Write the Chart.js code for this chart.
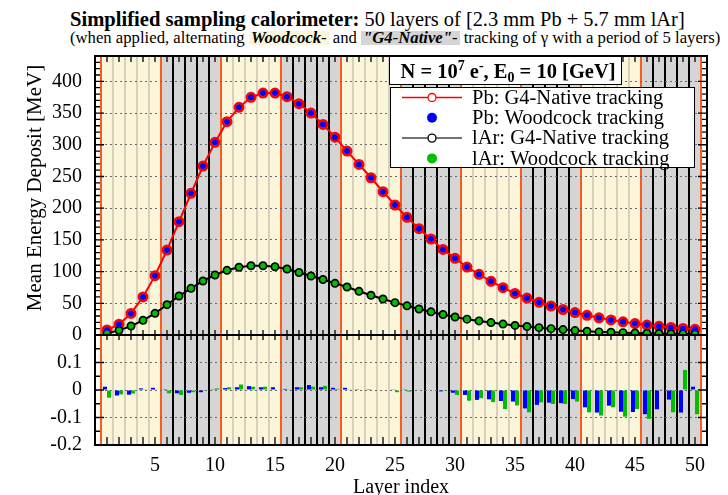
<!DOCTYPE html>
<html>
<head>
<meta charset="utf-8">
<script src="https://cdn.jsdelivr.net/npm/chart.js@4.4.1/dist/chart.umd.min.js"></script>
<style>
  html, body { margin: 0; padding: 0; background: #fff; }
  body { width: 728px; height: 495px; overflow: hidden; position: relative;
         font-family: 'Liberation Serif', 'Times New Roman', serif; color: #000; }
  #t1 { position: absolute; left: 70px; top: 9px; font-size: 20.4px; line-height: 20px; white-space: nowrap; }
  #t1 b { font-size: 20.6px; }
  #t2 { position: absolute; left: 70px; top: 29px; font-size: 16.7px; line-height: 17px; white-space: nowrap; }
  .hl { display: inline-block; height: 14px; line-height: 14px; padding: 0 2px; }
  .hl.wc { background: #fbf5d9; }
  .hl.g4 { background: #d5d5d5; }
  canvas { position: absolute; left: 0; }
  #energy { top: 0; }
  #relerr { top: 318px; }
</style>
</head>
<body>
<div id="t1"><b>Simplified sampling calorimeter:</b> 50 layers of [2.3 mm Pb + 5.7 mm lAr]</div>
<div id="t2">(when applied, alternating <span class="hl wc"><b><i>Woodcock</i></b>-</span> and <span class="hl g4"><b><i>"G4-Native"</i></b>-</span> tracking of γ with a period of 5 layers)</div>
<canvas id="energy" width="728" height="350"></canvas>
<canvas id="relerr" width="728" height="187"></canvas>
<script>
// Layer index of the calorimeter (1..50)
const layers = [1,2,3,4,5,6,7,8,9,10,11,12,13,14,15,16,17,18,19,20,
                21,22,23,24,25,26,27,28,29,30,31,32,33,34,35,36,37,38,39,40,
                41,42,43,44,45,46,47,48,49,50];

// Mean energy deposit per layer [MeV]
const pbNative = [7.9,16.8,34,60,93.6,134,178.7,223.4,266.5,303.8,
                  336.4,359,374.8,381.5,381.5,375.8,364.8,350,332,312,
                  290,269,248,226,205,185.6,167.6,151.4,135,121,
                  107.2,95.7,84.7,74.6,65.5,58.3,51.6,45.6,40.2,35.3,
                  31,27.1,23.7,20.7,18,15.7,13.7,11.9,10.3,8.9];
const pbWoodcock = [7.9,16.8,34,60,93.6,134,178.7,223.4,266.5,303.8,
                    336.4,359,374.8,381.5,381.5,375.8,364.8,350,332,312,
                    290,269,248,226,205,185.6,167.6,151.4,135,121,
                    107.2,95.7,84.7,74.6,65.5,58.3,51.6,45.6,40.2,35.3,
                    31,27.1,23.7,20.7,18,15.7,13.7,11.9,10.3,8.9];
const lArNative = [2.6,7.3,14.2,23.1,34.2,47.8,61.5,73.6,85.2,94.6,
                   102,106.8,109.3,109.3,107.7,104,98.5,93,87.5,81.5,
                   75.7,68.9,62.6,56.8,51,46,41,36.5,32.3,28.4,
                   25,22.2,19.6,17.2,15.1,13.4,11.6,10,8.5,7,
                   5.9,4.9,4.3,3.7,3.2,2.7,2.3,2,1.8,1.6];
const lArWoodcock = [2.6,7.3,14.2,23.1,34.2,47.8,61.5,73.6,85.2,94.6,
                     102,106.8,109.3,109.3,107.7,104,98.5,93,87.5,81.5,
                     75.7,68.9,62.6,56.8,51,46,41,36.5,32.3,28.4,
                     25,22.2,19.6,17.2,15.1,13.4,11.6,10,8.5,7,
                     5.9,4.9,4.3,3.7,3.2,2.7,2.3,2,1.8,1.6];

// Relative difference Woodcock vs G4-Native [%]
const pbRelErr = [0.012,-0.02,-0.017,0.006,0.008,0.003,-0.012,-0.01,-0.008,0.001,
                  0.007,0.01,0.014,0.01,0.01,0.004,0.01,0.018,0.01,0.008,
                  0.008,0.003,0.003,0,0.001,0.001,0.002,0,-0.005,-0.01,
                  -0.018,-0.036,-0.034,-0.04,-0.042,-0.067,-0.054,-0.046,-0.048,-0.033,
                  -0.063,-0.082,-0.057,-0.079,-0.08,-0.088,-0.07,-0.035,-0.082,0.012];
const lArRelErr = [-0.028,-0.016,-0.013,0.001,0.002,-0.012,-0.018,-0.008,-0.003,0.006,
                   0.01,0.02,0.012,0.012,0.002,0.001,0.01,0.012,0.015,0.004,
                   0.001,0,0,0,-0.008,-0.006,0,0,-0.001,-0.018,
                   -0.039,-0.03,-0.044,-0.069,-0.056,-0.081,-0.045,-0.051,-0.051,-0.042,
                   -0.081,-0.093,-0.063,-0.097,-0.069,-0.105,0.001,-0.081,0.073,-0.088];

// Photon tracking used in each group of 5 layers
const trackingPeriod = 5;
const groupTracking = ['Woodcock','G4-Native','Woodcock','G4-Native','Woodcock',
                       'G4-Native','Woodcock','G4-Native','Woodcock','G4-Native'];

const COL = {
  beige: '#fbf5d9', gray: '#d5d5d5', sep: '#d8d0bd', black: '#000',
  orange: '#ff5a1e', red: '#ff0000', blue: '#0000ff', green: '#00bf00', grid: '#6a6a6a'
};
const SERIF = "'Liberation Serif', 'Times New Roman', serif";

Chart.defaults.font.family = SERIF;
Chart.defaults.font.size = 20;
Chart.defaults.color = '#000';

const pts = vals => layers.map((l, i) => ({x: l, y: vals[i]}));

// keep the plot area exactly where the layout padding puts it
const fixedWidth = w => s => { s.width = w; s.paddingTop = 0; s.paddingBottom = 0; };
const fixedHeight = h => s => { s.height = h; s.paddingLeft = 0; s.paddingRight = 0; };

// Shaded groups of layers and the layer separators
const bandsPlugin = {
  id: 'bands',
  beforeDraw(chart) {
    const {ctx, chartArea: a, scales: {x}} = chart;
    ctx.save();
    ctx.fillStyle = '#fff';
    ctx.fillRect(a.left, a.top, a.width, a.height);
    groupTracking.forEach((mode, g) => {
      const first = layers[g * trackingPeriod];
      const last = layers[g * trackingPeriod + trackingPeriod - 1];
      const x0 = x.getPixelForValue(first - 0.5);
      const x1 = x.getPixelForValue(last + 0.5);
      const wc = mode === 'Woodcock';
      ctx.fillStyle = wc ? COL.beige : COL.gray;
      ctx.fillRect(x0, a.top, x1 - x0, a.height);
      ctx.strokeStyle = wc ? COL.sep : COL.black;
      ctx.lineWidth = 2;
      ctx.beginPath();
      for (let l = first; l < last; l++) {
        const px = x.getPixelForValue(l + 0.5);
        ctx.moveTo(px, a.top); ctx.lineTo(px, a.bottom);
      }
      ctx.stroke();
    });
    ctx.strokeStyle = COL.orange;
    ctx.lineWidth = 2;
    ctx.beginPath();
    groupTracking.forEach((mode, g) => {
      const first = layers[g * trackingPeriod];
      const px = x.getPixelForValue(first - 0.5);
      ctx.moveTo(px, a.top); ctx.lineTo(px, a.bottom);
    });
    const pe = x.getPixelForValue(layers[layers.length - 1] + 0.5);
    ctx.moveTo(pe, a.top); ctx.lineTo(pe, a.bottom);
    ctx.stroke();
    ctx.restore();
  }
};

// Pad frame with inward ticks on all four sides
function padFrame(cfg) {
  return {
    id: 'padFrame',
    beforeDatasetsDraw(chart) {
      const {ctx, chartArea: a, scales: {x, y}} = chart;
      ctx.save();
      ctx.strokeStyle = '#000';
      ctx.lineWidth = 1.3;
      ctx.beginPath();
      layers.forEach(l => {
        const px = x.getPixelForValue(l);
        ctx.moveTo(px, a.top); ctx.lineTo(px, a.top + cfg.xTop);
        ctx.moveTo(px, a.bottom); ctx.lineTo(px, a.bottom - cfg.xBottom);
      });
      const n = Math.round((y.max - y.min) / cfg.yMinor);
      for (let i = 0; i <= n; i++) {
        const v = y.min + i * cfg.yMinor;
        const r = v / cfg.yMajor;
        const major = Math.abs(r - Math.round(r)) < 1e-6;
        const len = major ? cfg.yMajorLen : cfg.yMinorLen;
        const py = y.getPixelForValue(v);
        ctx.moveTo(a.left, py); ctx.lineTo(a.left + len, py);
        ctx.moveTo(a.right, py); ctx.lineTo(a.right - len, py);
      }
      ctx.stroke();
      ctx.lineWidth = 2;
      ctx.strokeRect(a.left, a.top, a.width, a.height);
      ctx.restore();
    }
  };
}

// Rotated y-axis title
function yTitle(text, size, baselineX, centerY) {
  return {
    id: 'yTitle',
    afterDraw(chart) {
      const ctx = chart.ctx;
      ctx.save();
      ctx.font = size + 'px ' + SERIF;
      ctx.fillStyle = '#000';
      ctx.textAlign = 'center';
      ctx.textBaseline = 'alphabetic';
      ctx.translate(baselineX, centerY);
      ctx.rotate(-Math.PI / 2);
      ctx.fillText(text, 0, 0);
      ctx.restore();
    }
  };
}

// Beam box and legend of the four series
const legendPlugin = {
  id: 'seriesLegend',
  afterDraw(chart) {
    const ctx = chart.ctx;
    ctx.save();
    // beam box
    ctx.fillStyle = '#fff';
    ctx.fillRect(389, 56, 233, 29);
    ctx.strokeStyle = '#000';
    ctx.lineWidth = 1;
    ctx.strokeRect(389.5, 56.5, 232, 28);
    const parts = [
      ['N = 10', 20.5, 0], ['7', 14, -8], [' e', 20.5, 0], ['-', 14, -8],
      [', E', 20.5, 0], ['0', 14, 4], [' = 10 [GeV]', 20.5, 0]
    ];
    let total = 0;
    parts.forEach(p => { ctx.font = 'bold ' + p[1] + 'px ' + SERIF; total += ctx.measureText(p[0]).width; });
    let xx = 508 - total / 2;
    ctx.fillStyle = '#000';
    ctx.textBaseline = 'alphabetic';
    ctx.textAlign = 'left';
    parts.forEach(p => {
      ctx.font = 'bold ' + p[1] + 'px ' + SERIF;
      ctx.fillText(p[0], xx, 78 + p[2]);
      xx += ctx.measureText(p[0]).width;
    });
    // legend
    ctx.fillStyle = '#fff';
    ctx.fillRect(390, 87, 305, 81);
    ctx.strokeRect(390.5, 87.5, 304, 80);
    const ds = chart.data.datasets;
    [0, 1, 2, 3].forEach((i, r) => {
      const d = ds[i];
      const yy = 97.5 + r * 20.3;
      if (d.showLine !== false) {
        ctx.strokeStyle = d.borderColor === COL.black ? '#444' : d.borderColor;
        ctx.lineWidth = 1.5;
        ctx.beginPath(); ctx.moveTo(402, yy); ctx.lineTo(462, yy); ctx.stroke();
        ctx.fillStyle = '#fff';
        ctx.beginPath(); ctx.arc(432, yy, 4, 0, Math.PI * 2); ctx.fill();
        ctx.strokeStyle = d.borderColor;
        ctx.lineWidth = 1.3;
        ctx.stroke();
      } else {
        ctx.fillStyle = d.pointBackgroundColor;
        ctx.beginPath(); ctx.arc(432, yy, 5, 0, Math.PI * 2); ctx.fill();
      }
      ctx.fillStyle = '#000';
      ctx.font = '20.5px ' + SERIF;
      ctx.textBaseline = 'middle';
      ctx.fillText(d.label, 472, yy + 1);
    });
    ctx.restore();
  }
};

new Chart(document.getElementById('energy'), {
  type: 'line',
  data: {
    datasets: [
      { label: 'Pb: G4-Native tracking', data: pts(pbNative), borderColor: COL.red, borderWidth: 2,
        pointRadius: 4.3, pointBorderWidth: 2.4, pointBorderColor: COL.red, pointBackgroundColor: '#ff4a4a', order: 4 },
      { label: 'Pb: Woodcock tracking', data: pts(pbWoodcock), showLine: false,
        pointRadius: 3, pointBorderWidth: 0, pointBackgroundColor: COL.blue, order: 2 },
      { label: 'lAr: G4-Native tracking', data: pts(lArNative), borderColor: COL.black, borderWidth: 2,
        pointRadius: 3.6, pointBorderWidth: 1.8, pointBorderColor: COL.black, pointBackgroundColor: COL.black, order: 3 },
      { label: 'lAr: Woodcock tracking', data: pts(lArWoodcock), showLine: false,
        pointRadius: 2.8, pointBorderWidth: 0, pointBackgroundColor: COL.green, order: 1 }
    ]
  },
  options: {
    responsive: false, animation: false, events: [],
    layout: { padding: { top: 56, bottom: 15, left: 0, right: 21 } },
    plugins: { legend: { display: false }, tooltip: { enabled: false } },
    scales: {
      x: { type: 'linear', min: 0, max: 51, offset: false, display: false },
      y: {
        min: 0, max: 440,
        afterFit: fixedWidth(95),
        ticks: { stepSize: 50, includeBounds: false, autoSkip: false, padding: 13, font: { size: 20 }, color: '#000' },
        grid: { color: COL.grid, lineWidth: 1, drawTicks: false },
        border: { display: false, dash: [2, 3] }
      }
    }
  },
  plugins: [bandsPlugin, padFrame({ xTop: 6, xBottom: 5, yMinor: 10, yMajor: 50, yMinorLen: 5, yMajorLen: 9 }),
            yTitle('Mean Energy Deposit [MeV]', 21, 41, 188), legendPlugin]
});

new Chart(document.getElementById('relerr'), {
  type: 'bar',
  data: {
    datasets: [
      { label: 'Pb', data: pts(pbRelErr), backgroundColor: COL.blue, borderWidth: 0,
        categoryPercentage: 0.68, barPercentage: 1 },
      { label: 'lAr', data: pts(lArRelErr), backgroundColor: COL.green, borderWidth: 0,
        categoryPercentage: 0.68, barPercentage: 1 }
    ]
  },
  options: {
    responsive: false, animation: false, events: [],
    layout: { padding: { top: 17, bottom: 0, left: 0, right: 21 } },
    plugins: { legend: { display: false }, tooltip: { enabled: false } },
    scales: {
      x: {
        type: 'linear', min: 0, max: 51, offset: false,
        afterFit: fixedHeight(60),
        ticks: { stepSize: 5, includeBounds: false, padding: 9, maxRotation: 0, autoSkip: false,
                 font: { size: 20 }, color: '#000', callback: v => (v === 0 ? '' : String(v)) },
        grid: { display: false, drawTicks: false, offset: false },
        border: { display: false },
        title: { display: true, text: 'Layer index', font: { size: 20 }, color: '#000', padding: { top: 0, bottom: 5 } }
      },
      y: {
        min: -0.2, max: 0.2,
        afterFit: fixedWidth(95),
        ticks: { stepSize: 0.1, autoSkip: false, padding: 13, font: { size: 20 }, color: '#000',
                 callback: v => (v > 0.15 ? '' : String(+v.toFixed(1))) },
        grid: { color: COL.grid, lineWidth: 1, drawTicks: false },
        border: { display: false, dash: [2, 3] }
      }
    }
  },
  plugins: [bandsPlugin, padFrame({ xTop: 5, xBottom: 8, yMinor: 0.05, yMajor: 0.1, yMinorLen: 5, yMajorLen: 9 }),
            yTitle('Rel. err. [%]', 20, 41, 391)]
});
</script>
</body>
</html>
